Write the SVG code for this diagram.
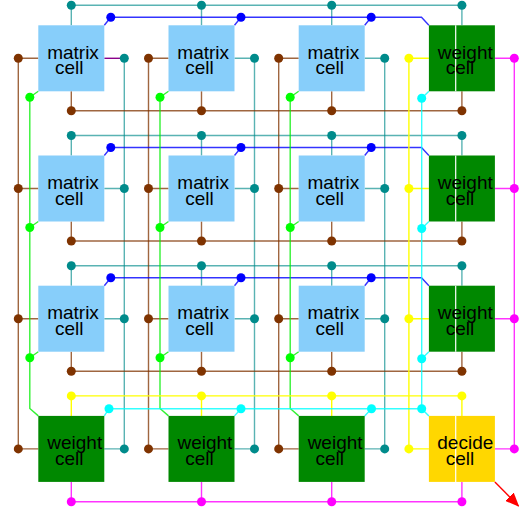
<svg xmlns="http://www.w3.org/2000/svg" width="522" height="510" viewBox="0 0 522 510">
<style>
.l{fill:none;stroke-width:1.4}
.te{stroke:#008b8b;stroke-opacity:.65}
.br{stroke:#7f3300;stroke-opacity:.75}
.bl{stroke:#0000ff;stroke-opacity:.8}
.gr{stroke:#00ee00;stroke-opacity:.8}
.ye{stroke:#ffff00}
.cy{stroke:#00ffff;stroke-opacity:.8}
.ma{stroke:#ff00ff;stroke-opacity:.8}
.pu{stroke:#8b008b}
.dte{fill:#008b8b}.dbr{fill:#7f3300}.dbl{fill:#0000ff}.dgr{fill:#00ff00}
.dye{fill:#ffff00}.dcy{fill:#00ffff}.dma{fill:#ff00ff}
.mc{fill:#87cefa}.wc{fill:#008800}.dc{fill:#ffd700}
.sep{stroke:#ffffff;stroke-width:1.2}
text{font-family:"Liberation Sans",Arial,sans-serif;font-size:19px;fill:#000;text-anchor:middle}
</style>
<defs>
<marker id="ah" markerUnits="userSpaceOnUse" markerWidth="14" markerHeight="12" refX="13" refY="6" orient="auto">
<path d="M0,0 L14,6 L0,12 z" fill="#ff0000"/>
</marker>
</defs>
<g id="connectors">
<!-- teal -->
<g class="l te">
<path d="M71.3,5.3H461.9M71.3,135.5H461.9M71.3,265.7H461.9"/>
<path d="M124.3,58.3V448.9M254.5,58.3V448.9M384.7,58.3V448.9"/>
<path d="M71.3,5.3V25.3M201.5,5.3V25.3M331.7,5.3V25.3M461.9,5.3V25.3"/>
<path d="M71.3,135.5V155.5M201.5,135.5V155.5M331.7,135.5V155.5M461.9,135.5V155.5"/>
<path d="M71.3,265.7V285.7M201.5,265.7V285.7M331.7,265.7V285.7M461.9,265.7V285.7"/>
<path d="M234.5,58.3H254.5M364.7,58.3H384.7"/>
<path d="M104.3,188.5H124.3M234.5,188.5H254.5M364.7,188.5H384.7"/>
<path d="M104.3,318.7H124.3M234.5,318.7H254.5M364.7,318.7H384.7"/>
<path d="M104.3,448.9H124.3M234.5,448.9H254.5M364.7,448.9H384.7"/>
</g>
<path class="l pu" d="M104.3,58.3H124.3"/>
<!-- brown -->
<g class="l br">
<path d="M71.3,110.8H461.9M71.3,241H461.9M71.3,371.2H461.9"/>
<path d="M18.3,58.3V448.9M148.5,58.3V448.9M278.7,58.3V448.9"/>
<path d="M71.3,91.3V110.8M201.5,91.3V110.8M331.7,91.3V110.8M461.9,91.3V110.8"/>
<path d="M71.3,221.5V241M201.5,221.5V241M331.7,221.5V241M461.9,221.5V241"/>
<path d="M71.3,351.7V371.2M201.5,351.7V371.2M331.7,351.7V371.2M461.9,351.7V371.2"/>
<path d="M18.3,58.3H38.3M148.5,58.3H168.5M278.7,58.3H298.7"/>
<path d="M18.3,188.5H38.3M148.5,188.5H168.5M278.7,188.5H298.7"/>
<path d="M18.3,318.7H38.3M148.5,318.7H168.5M278.7,318.7H298.7"/>
<path d="M18.3,448.9H38.3M148.5,448.9H168.5M278.7,448.9H298.7"/>
</g>
<!-- blue -->
<g class="l bl">
<path d="M110.8,17.3H421.5L428.9,25.3M110.8,147.5H421.5L428.9,155.5M110.8,277.7H421.5L428.9,285.7"/>
<path d="M104.3,25.3L110.8,17.3M234.5,25.3L241,17.3M364.7,25.3L371.2,17.3"/>
<path d="M104.3,155.5L110.8,147.5M234.5,155.5L241,147.5M364.7,155.5L371.2,147.5"/>
<path d="M104.3,285.7L110.8,277.7M234.5,285.7L241,277.7M364.7,285.7L371.2,277.7"/>
</g>
<!-- green -->
<g class="l gr">
<path d="M29.8,97.3V408.5L38.3,415.9M160,97.3V408.5L168.5,415.9M290.2,97.3V408.5L298.7,415.9"/>
<path d="M38.3,91.3L29.8,97.3M168.5,91.3L160,97.3M298.7,91.3L290.2,97.3"/>
<path d="M38.3,221.5L29.8,227.5M168.5,221.5L160,227.5M298.7,221.5L290.2,227.5"/>
<path d="M38.3,351.7L29.8,357.7M168.5,351.7L160,357.7M298.7,351.7L290.2,357.7"/>
</g>
<!-- yellow -->
<g class="l ye">
<path d="M71.3,395.9H461.9M408.9,58.3V448.9"/>
<path d="M71.3,395.9V415.9M201.5,395.9V415.9M331.7,395.9V415.9M461.9,395.9V415.9"/>
<path d="M408.9,58.3H428.9M408.9,188.5H428.9M408.9,318.7H428.9M408.9,448.9H428.9"/>
</g>
<!-- cyan -->
<g class="l cy">
<path d="M109,408.7H421.7M421.7,98.3V408.7"/>
<path d="M104.3,415.9L109,408.7M234.5,415.9L241,408.7M364.7,415.9L371.5,408.7"/>
<path d="M428.9,91.3L421.7,98.3M428.9,221.5L421.7,228.5M428.9,351.7L421.7,358.7M428.9,415.9L421.7,408.7"/>
</g>
<!-- magenta -->
<g class="l ma">
<path d="M71.3,501.7H461.9M514.3,58.3V448.9"/>
<path d="M71.3,481.9V501.7M201.5,481.9V501.7M331.7,481.9V501.7M461.9,481.9V501.7"/>
<path d="M494.9,58.3H514.3M494.9,188.5H514.3M494.9,318.7H514.3M494.9,448.9H514.3"/>
</g>
<!-- red arrow -->
<line x1="494.9" y1="481.9" x2="518.5" y2="506" stroke="#ff0000" stroke-width="1.4" marker-end="url(#ah)"/>
<!-- dots -->
<g class="dte">
<circle cx="71.3" cy="5.3" r="4.5"/><circle cx="201.5" cy="5.3" r="4.5"/><circle cx="331.7" cy="5.3" r="4.5"/><circle cx="461.9" cy="5.3" r="4.5"/>
<circle cx="71.3" cy="135.5" r="4.5"/><circle cx="201.5" cy="135.5" r="4.5"/><circle cx="331.7" cy="135.5" r="4.5"/><circle cx="461.9" cy="135.5" r="4.5"/>
<circle cx="71.3" cy="265.7" r="4.5"/><circle cx="201.5" cy="265.7" r="4.5"/><circle cx="331.7" cy="265.7" r="4.5"/><circle cx="461.9" cy="265.7" r="4.5"/>
<circle cx="124.3" cy="58.3" r="4.5"/><circle cx="254.5" cy="58.3" r="4.5"/><circle cx="384.7" cy="58.3" r="4.5"/>
<circle cx="124.3" cy="188.5" r="4.5"/><circle cx="254.5" cy="188.5" r="4.5"/><circle cx="384.7" cy="188.5" r="4.5"/>
<circle cx="124.3" cy="318.7" r="4.5"/><circle cx="254.5" cy="318.7" r="4.5"/><circle cx="384.7" cy="318.7" r="4.5"/>
<circle cx="124.3" cy="448.9" r="4.5"/><circle cx="254.5" cy="448.9" r="4.5"/><circle cx="384.7" cy="448.9" r="4.5"/>
</g>
<g class="dbr">
<circle cx="71.3" cy="110.8" r="4.5"/><circle cx="201.5" cy="110.8" r="4.5"/><circle cx="331.7" cy="110.8" r="4.5"/><circle cx="461.9" cy="110.8" r="4.5"/>
<circle cx="71.3" cy="241" r="4.5"/><circle cx="201.5" cy="241" r="4.5"/><circle cx="331.7" cy="241" r="4.5"/><circle cx="461.9" cy="241" r="4.5"/>
<circle cx="71.3" cy="371.2" r="4.5"/><circle cx="201.5" cy="371.2" r="4.5"/><circle cx="331.7" cy="371.2" r="4.5"/><circle cx="461.9" cy="371.2" r="4.5"/>
<circle cx="18.3" cy="58.3" r="4.5"/><circle cx="148.5" cy="58.3" r="4.5"/><circle cx="278.7" cy="58.3" r="4.5"/>
<circle cx="18.3" cy="188.5" r="4.5"/><circle cx="148.5" cy="188.5" r="4.5"/><circle cx="278.7" cy="188.5" r="4.5"/>
<circle cx="18.3" cy="318.7" r="4.5"/><circle cx="148.5" cy="318.7" r="4.5"/><circle cx="278.7" cy="318.7" r="4.5"/>
<circle cx="18.3" cy="448.9" r="4.5"/><circle cx="148.5" cy="448.9" r="4.5"/><circle cx="278.7" cy="448.9" r="4.5"/>
</g>
<g class="dbl">
<circle cx="110.8" cy="17.3" r="4.5"/><circle cx="241" cy="17.3" r="4.5"/><circle cx="371.2" cy="17.3" r="4.5"/>
<circle cx="110.8" cy="147.5" r="4.5"/><circle cx="241" cy="147.5" r="4.5"/><circle cx="371.2" cy="147.5" r="4.5"/>
<circle cx="110.8" cy="277.7" r="4.5"/><circle cx="241" cy="277.7" r="4.5"/><circle cx="371.2" cy="277.7" r="4.5"/>
</g>
<g class="dgr">
<circle cx="29.8" cy="97.3" r="4.5"/><circle cx="160" cy="97.3" r="4.5"/><circle cx="290.2" cy="97.3" r="4.5"/>
<circle cx="29.8" cy="227.5" r="4.5"/><circle cx="160" cy="227.5" r="4.5"/><circle cx="290.2" cy="227.5" r="4.5"/>
<circle cx="29.8" cy="357.7" r="4.5"/><circle cx="160" cy="357.7" r="4.5"/><circle cx="290.2" cy="357.7" r="4.5"/>
</g>
<g class="dye">
<circle cx="71.3" cy="395.9" r="4.5"/><circle cx="201.5" cy="395.9" r="4.5"/><circle cx="331.7" cy="395.9" r="4.5"/><circle cx="461.9" cy="395.9" r="4.5"/>
<circle cx="408.9" cy="58.3" r="4.5"/><circle cx="408.9" cy="188.5" r="4.5"/><circle cx="408.9" cy="318.7" r="4.5"/><circle cx="408.9" cy="448.9" r="4.5"/>
</g>
<g class="dcy">
<circle cx="109" cy="408.7" r="4.5"/><circle cx="241" cy="408.7" r="4.5"/><circle cx="371.5" cy="408.7" r="4.5"/><circle cx="421.7" cy="408.7" r="4.5"/>
<circle cx="421.7" cy="98.3" r="4.5"/><circle cx="421.7" cy="228.5" r="4.5"/><circle cx="421.7" cy="358.7" r="4.5"/>
</g>
<g class="dma">
<circle cx="71.3" cy="501.7" r="4.5"/><circle cx="201.5" cy="501.7" r="4.5"/><circle cx="331.7" cy="501.7" r="4.5"/><circle cx="461.9" cy="501.7" r="4.5"/>
<circle cx="514.3" cy="58.3" r="4.5"/><circle cx="514.3" cy="188.5" r="4.5"/><circle cx="514.3" cy="318.7" r="4.5"/><circle cx="514.3" cy="448.9" r="4.5"/>
</g>
</g>
<!-- row 0 -->
<g id="m00"><rect class="mc" x="38.3" y="25.3" width="66" height="66"/><text x="73" y="58.6">matrix</text><text x="69.3" y="74.3">cell</text></g>
<g id="m10"><rect class="mc" x="168.5" y="25.3" width="66" height="66"/><text x="203.2" y="58.6">matrix</text><text x="199.5" y="74.3">cell</text></g>
<g id="m20"><rect class="mc" x="298.7" y="25.3" width="66" height="66"/><text x="333.4" y="58.6">matrix</text><text x="329.7" y="74.3">cell</text></g>
<g id="w30"><rect class="wc" x="428.9" y="25.3" width="66" height="66"/><line class="sep" x1="455.7" y1="25.3" x2="455.7" y2="91.3"/><text x="465.3" y="58.6">weight</text><text x="459.9" y="74.3">cell</text></g>
<!-- row 1 -->
<g id="m01"><rect class="mc" x="38.3" y="155.5" width="66" height="66"/><text x="73" y="188.8">matrix</text><text x="69.3" y="204.5">cell</text></g>
<g id="m11"><rect class="mc" x="168.5" y="155.5" width="66" height="66"/><text x="203.2" y="188.8">matrix</text><text x="199.5" y="204.5">cell</text></g>
<g id="m21"><rect class="mc" x="298.7" y="155.5" width="66" height="66"/><text x="333.4" y="188.8">matrix</text><text x="329.7" y="204.5">cell</text></g>
<g id="w31"><rect class="wc" x="428.9" y="155.5" width="66" height="66"/><line class="sep" x1="455.7" y1="155.5" x2="455.7" y2="221.5"/><text x="465.3" y="188.8">weight</text><text x="459.9" y="204.5">cell</text></g>
<!-- row 2 -->
<g id="m02"><rect class="mc" x="38.3" y="285.7" width="66" height="66"/><text x="73" y="319">matrix</text><text x="69.3" y="334.7">cell</text></g>
<g id="m12"><rect class="mc" x="168.5" y="285.7" width="66" height="66"/><text x="203.2" y="319">matrix</text><text x="199.5" y="334.7">cell</text></g>
<g id="m22"><rect class="mc" x="298.7" y="285.7" width="66" height="66"/><text x="333.4" y="319">matrix</text><text x="329.7" y="334.7">cell</text></g>
<g id="w32"><rect class="wc" x="428.9" y="285.7" width="66" height="66"/><line class="sep" x1="455.7" y1="285.7" x2="455.7" y2="351.7"/><text x="465.3" y="319">weight</text><text x="459.9" y="334.7">cell</text></g>
<!-- row 3 -->
<g id="w03"><rect class="wc" x="38.3" y="415.9" width="66" height="66"/><text x="74.7" y="448.6">weight</text><text x="69.3" y="464.8">cell</text></g>
<g id="w13"><rect class="wc" x="168.5" y="415.9" width="66" height="66"/><text x="204.9" y="448.6">weight</text><text x="199.5" y="464.8">cell</text></g>
<g id="w23"><rect class="wc" x="298.7" y="415.9" width="66" height="66"/><text x="335.1" y="448.6">weight</text><text x="329.7" y="464.8">cell</text></g>
<g id="d33"><rect class="dc" x="428.9" y="415.9" width="66" height="66"/><line class="sep" x1="455.7" y1="415.9" x2="455.7" y2="481.9"/><text x="465.3" y="448.6">decide</text><text x="459.9" y="464.8">cell</text></g>
</svg>
